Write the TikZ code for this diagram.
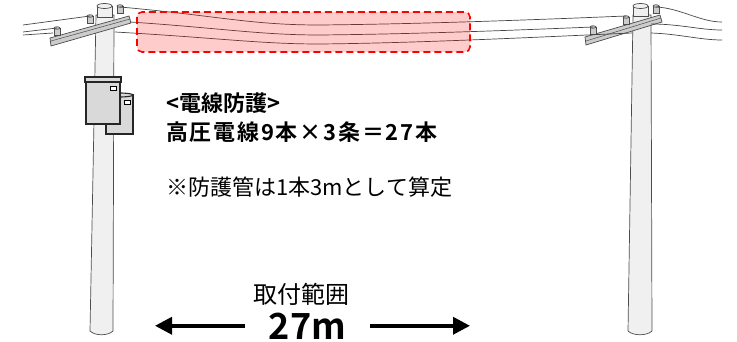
\documentclass[tikz,border=0pt]{standalone}
\usepackage{fontspec}
\setmainfont{Noto Sans CJK JP}[BoldFont={Noto Sans CJK JP Bold}]
\usetikzlibrary{arrows.meta}

\tikzset{
  pole/.style={draw=gray!60!black, fill=gray!12, line width=0.7pt},
  crossarm/.style={draw=gray!60!black, fill=gray!40, line width=0.7pt},
  tank/.style={draw=black!85, fill=gray!30, line width=1.1pt},
  wire/.style={draw=gray!55!black, line width=0.7pt},
  guardbox/.style={draw=red, dash pattern=on 7pt off 4pt, line width=1.6pt,
    rounded corners=5pt, fill=red, fill opacity=0.2},
  spanarrow/.style={line width=3.5pt, -{Triangle[length=17pt,width=17pt]}},
}

\begin{document}
\begin{tikzpicture}[x=1pt,y=-1pt]
\useasboundingbox (0,0) rectangle (737,342);

\newcommand\insulator[2]{
  \draw[crossarm] (#1-3,#2) rectangle (#1+3,#2+7);
  \draw[crossarm] (#1,#2) ellipse (3 and 1.2);
}

% left pole
\path[pole] (96,15) -- (114,15) -- (113,331)
  .. controls (108,336) and (95,336) .. (90,331) -- cycle;
\path[pole] (97,6) rectangle (112,17);
\path[pole] (104.5,6) ellipse (7.5 and 2.5);
\path[crossarm] (50,38) -- (129,16) -- (131,23) -- (51,46) -- cycle;
\path[draw=gray!60!black, line width=0.5pt] (51,41) -- (130,19);
\insulator{57}{28}
\insulator{90}{16}
\insulator{120}{6}

% transformers
\path[tank] (106,95) rectangle (133,134);
\path[tank] (119.5,95) ellipse (13.5 and 2);
\draw[fill=white, line width=0.8pt] (124,100) rectangle (130,104);
\path[tank] (86,80) rectangle (120,124);
\path[tank] (85,77) rectangle (121,82);
\draw[fill=white, line width=0.8pt] (110,86) rectangle (116,90);

% right pole
\path[pole] (633,15) -- (651,15) -- (652,331)
  .. controls (647,336) and (633,336) .. (628,331) -- cycle;
\path[pole] (633,6) rectangle (648,16);
\path[pole] (640.5,6) ellipse (7.5 and 2.5);
\path[crossarm] (585,37) -- (660,15) -- (662,22) -- (586,45) -- cycle;
\path[draw=gray!60!black, line width=0.5pt] (586,41) -- (661,18);
\insulator{593}{27}
\insulator{626}{17}
\insulator{656}{6}

% wires
\path[wire] (23,25) -- (90,16);
\path[wire] (23,32) -- (57,28);
\path[wire] (23,35) -- (53,33);
\path[wire] (120,7) .. controls (220,16) and (250,25) .. (320,25)
  .. controls (420,24) and (530,20) .. (626,16);
\path[wire] (130,22) .. controls (220,28) and (260,35) .. (320,35)
  .. controls (420,34) and (520,30) .. (593,27);
\path[wire] (115,32) .. controls (220,38) and (260,44) .. (320,44)
  .. controls (420,43) and (540,37) .. (632,33);
\path[wire] (656,7) .. controls (680,8) and (700,22) .. (722,22);
\path[wire] (651,24) .. controls (680,24) and (700,30) .. (722,30);
\path[wire] (651,33) .. controls (680,34) and (700,40) .. (722,40);

% protected section
\path[guardbox] (137,12) rectangle (470,52);

% texts
\node[anchor=west, inner sep=0, font=\bfseries\fontsize{22}{26}\selectfont]
  (title) at (166,103) {<電線防護>};
\node[anchor=west, inner sep=0, font=\bfseries\fontsize{22}{26}\selectfont\addfontfeatures{LetterSpace=8}]
  (count) at (166,132.5) {高圧電線9本×3条＝27本};
\node[anchor=west, inner sep=0, font=\fontsize{22}{26}\selectfont]
  (note) at (166,187) {※防護管は1本3mとして算定};
\node[inner sep=0, font=\fontsize{24}{28}\selectfont]
  (range) at (301,294) {取付範囲};
\node[anchor=base, inner xsep=24pt, inner ysep=0, font=\bfseries\fontsize{36}{40}\selectfont]
  (span) at (307.5,339) {27m};

% span arrows
\coordinate (spanL) at (155,325);
\coordinate (spanR) at (470,325);
\draw[spanarrow] (span.west) -- (span.west -| spanL);
\draw[spanarrow] (span.east) -- (span.east -| spanR);
\end{tikzpicture}
\end{document}
